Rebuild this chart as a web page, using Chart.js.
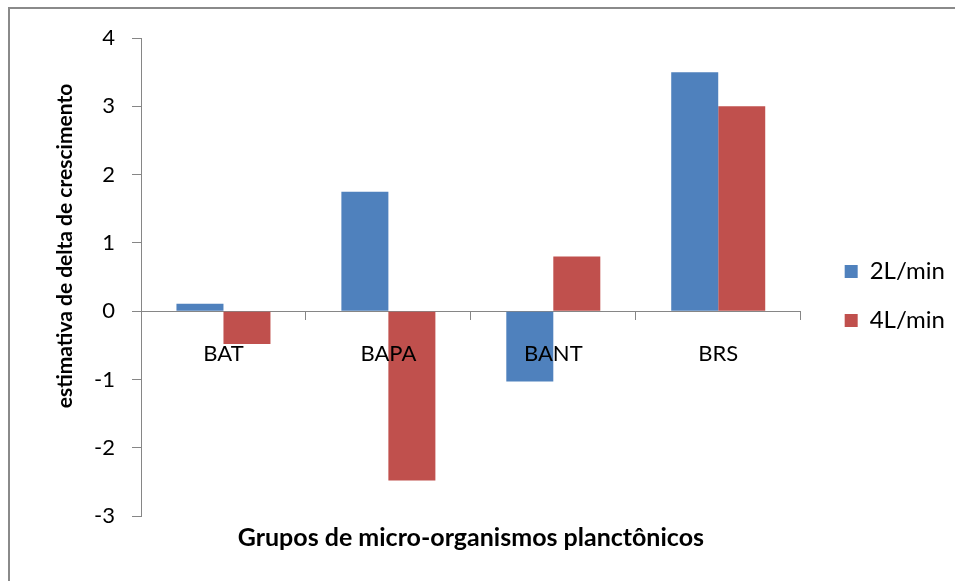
<!DOCTYPE html>
<html>
<head>
<meta charset="utf-8">
<script src="https://cdn.jsdelivr.net/npm/chart.js@4.4.1/dist/chart.umd.min.js"></script>
<style>
  html, body { margin: 0; padding: 0; background: #ffffff; }
  #wrap { width: 955px; height: 581px; position: relative; }
</style>
</head>
<body>
<div id="wrap"><canvas id="c" width="955" height="581"></canvas></div>
<script>
// Plankton groups and estimated growth deltas for each aeration flow rate
const categories = ['BAT', 'BAPA', 'BANT', 'BRS'];
const flow2L = [0.11, 1.75, -1.03, 3.5];
const flow4L = [-0.48, -2.48, 0.8, 3.0];
const seriesNames = ['2L/min', '4L/min'];
const yMin = -3;
const yMax = 4;
const yStep = 1;

const FONT = 'Lato, "Liberation Sans", sans-serif';
const AXIS_GREY = '#868686';

// Grey frame on the left and top edges of the figure
const framePlugin = {
  id: 'frame',
  beforeDraw(chart) {
    const ctx = chart.ctx;
    ctx.save();
    ctx.fillStyle = '#ffffff';
    ctx.fillRect(0, 0, chart.width, chart.height);
    ctx.fillStyle = '#8a8a8a';
    ctx.fillRect(8, 7, chart.width - 8, 2);
    ctx.fillRect(8, 7, 2, chart.height - 7);
    ctx.restore();
  }
};

// Rotated value-axis caption
const yCaptionPlugin = {
  id: 'yCaption',
  afterDraw(chart) {
    const ctx = chart.ctx;
    ctx.save();
    ctx.translate(65, 246);
    ctx.rotate(-Math.PI / 2);
    ctx.font = 'bold 21px ' + FONT;
    ctx.fillStyle = '#000000';
    ctx.textAlign = 'center';
    ctx.textBaseline = 'middle';
    ctx.fillText('estimativa de delta de crescimento', 0, 0);
    ctx.restore();
  }
};

new Chart(document.getElementById('c'), {
  type: 'bar',
  data: {
    labels: categories,
    datasets: [
      { label: seriesNames[0], data: flow2L, backgroundColor: '#4F81BD', borderWidth: 0,
        categoryPercentage: 0.57, barPercentage: 1.0 },
      { label: seriesNames[1], data: flow4L, backgroundColor: '#C0504D', borderWidth: 0,
        categoryPercentage: 0.57, barPercentage: 1.0 }
    ]
  },
  options: {
    responsive: false,
    animation: false,
    layout: { padding: { left: 0, top: 38, right: 0, bottom: 27 } },
    plugins: {
      legend: {
        display: true,
        position: 'right',
        align: 'center',
        labels: {
          boxWidth: 13,
          boxHeight: 13,
          padding: 25,
          color: '#000000',
          font: { family: FONT, size: 24 }
        }
      },
      tooltip: { enabled: false }
    },
    scales: {
      x: {
        type: 'category',
        position: { y: 0 },
        offset: true,
        grid: { display: true, drawOnChartArea: false, drawTicks: true, tickLength: 8, color: AXIS_GREY, offset: true },
        border: { display: true, color: AXIS_GREY, width: 1 },
        // category names are painted above the bars
        ticks: { z: 1, color: '#000000', padding: 22, font: { family: FONT, size: 22 } },
        afterFit(scale) { scale.height = 0; }
      },
      xCaption: {
        type: 'category',
        labels: categories,
        position: 'bottom',
        grid: { display: false, drawTicks: false },
        border: { display: false },
        ticks: { display: false },
        title: {
          display: true,
          text: 'Grupos de micro-organismos planctônicos',
          color: '#000000',
          font: { family: FONT, size: 25, weight: 'bold' },
          padding: { top: 0, bottom: 1 }
        },
        afterFit(scale) { scale.height = 38; }
      },
      y: {
        type: 'linear',
        position: 'left',
        min: yMin,
        max: yMax,
        ticks: { stepSize: yStep, color: '#000000', padding: 17, font: { family: FONT, size: 22 } },
        grid: { display: true, drawOnChartArea: false, drawTicks: true, tickLength: 9, color: AXIS_GREY },
        border: { display: true, color: AXIS_GREY, width: 1 },
        afterFit(scale) { scale.width = 141; }
      },
      // empty spacer between the plot and the legend
      spacer: {
        type: 'linear',
        position: 'right',
        grid: { display: false, drawTicks: false },
        border: { display: false },
        ticks: { display: false },
        afterFit(scale) { scale.width = 19; }
      }
    }
  },
  plugins: [framePlugin, yCaptionPlugin]
});
</script>
</body>
</html>
